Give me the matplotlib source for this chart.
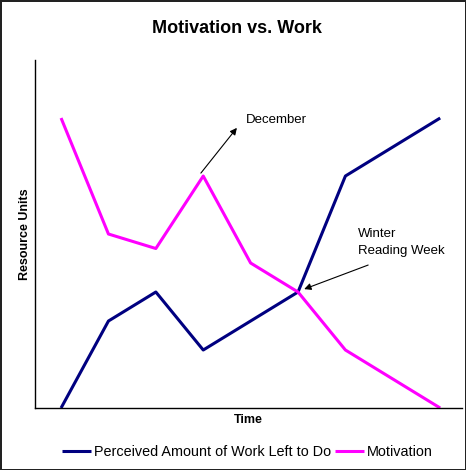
import numpy as np
import matplotlib
matplotlib.use("Agg")
import matplotlib.pyplot as plt

plt.rcParams['font.family'] = ['Liberation Sans', 'DejaVu Sans']

# time steps (categories) and series values
steps = list(range(9))
work_left = [0, 3, 4, 2, 3, 4, 8, 9, 10]
motivation = [10, 6, 5.5, 8, 5, 4, 2, 1, 0]

fig = plt.figure(figsize=(4.66, 4.70), dpi=100, linewidth=2, edgecolor='#222222')
ax = fig.add_axes([0.0751, 0.1319, 0.9163, 0.7404])

ax.plot(steps, work_left, color='#000080', lw=2.2, label='Perceived Amount of Work Left to Do',
        solid_capstyle='butt')
ax.plot(steps, motivation, color='#FF00FF', lw=2.2, label='Motivation',
        solid_capstyle='butt')

ax.set_xlim(-0.55, 8.46)
ax.set_ylim(0, 12)
ax.set_xticks([])
ax.set_yticks([])
for side in ['top', 'right']:
    ax.spines[side].set_visible(False)
for side in ['left', 'bottom']:
    ax.spines[side].set_linewidth(1.0)

# title is centred on the chart area, not the plot area
fig.text(0.508, 0.94, 'Motivation vs. Work', fontsize=13, fontweight='bold',
         ha='center', va='center')
ax.set_xlabel('Time', fontsize=9, fontweight='bold', labelpad=4)
ax.set_ylabel('Resource Units', fontsize=9, fontweight='bold', labelpad=3)

# annotations
arrow = dict(arrowstyle='-|>', color='black', lw=0.8, mutation_scale=10, shrinkA=0, shrinkB=0)
ax.annotate('', xy=(3.71, 9.66), xytext=(2.95, 8.1), arrowprops=arrow)
ax.text(3.9, 9.93, 'December', fontsize=9.5, va='center', ha='left')
ax.annotate('', xy=(5.13, 4.1), xytext=(6.48, 4.93), arrowprops=arrow)
ax.text(6.27, 6.2, 'Winter\nReading Week', fontsize=9.5, va='top', ha='left',
        linespacing=1.55)

fig.legend(loc='center', bbox_to_anchor=(0.531, 0.038), ncol=2, frameon=False,
           fontsize=10.4, handlelength=2.0, handletextpad=0.2, columnspacing=0.3,
           borderaxespad=0)

fig.savefig('out.png', dpi=100)
